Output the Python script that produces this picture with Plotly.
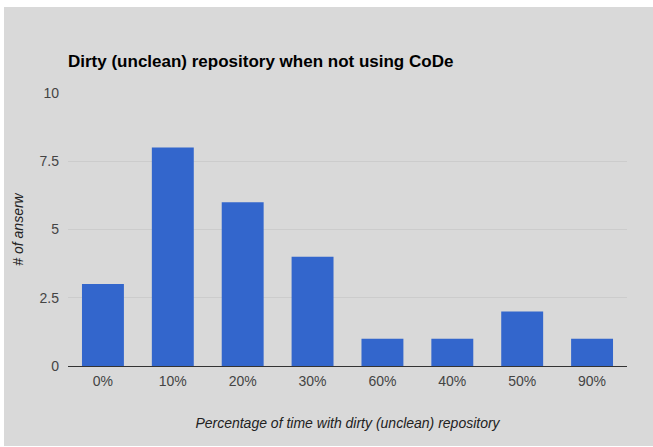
import plotly.graph_objects as go

categories = ["0%", "10%", "20%", "30%", "60%", "40%", "50%", "90%"]
answers = [3, 8, 6, 4, 1, 1, 2, 1]
y_ticks = [0, 2.5, 5, 7.5, 10]
y_tick_labels = ["0", "2.5", "5", "7.5", "10"]

W, H = 653, 447
L, R, T, B = 68, 26, 93, 81
pw, ph = W - L - R, H - T - B

def px_x(x):
    return (x - L) / pw

def px_y(y):
    return (H - B - y) / ph

fig = go.Figure(
    go.Bar(
        x=categories,
        y=answers,
        marker=dict(color="#3366cc", line=dict(width=0)),
        hoverinfo="x+y",
    )
)

# grey card behind the chart
fig.add_shape(
    type="rect", xref="paper", yref="paper", layer="below",
    x0=px_x(4), x1=px_x(660), y0=px_y(446), y1=px_y(7),
    fillcolor="#d9d9d9", line=dict(width=0),
)

fig.update_layout(
    width=W, height=H,
    margin=dict(l=L, r=R, t=T, b=B),
    paper_bgcolor="white",
    plot_bgcolor="rgba(0,0,0,0)",
    bargap=0.4,
    showlegend=False,
    font=dict(family="Arial, Liberation Sans, sans-serif", color="#444444", size=14),
    title=dict(
        text="<b>Dirty (unclean) repository when not using CoDe</b>",
        x=px_x(68), xanchor="left", xref="paper",
        y=1 - 61 / H, yanchor="middle",
        font=dict(size=17, color="#000000"),
    ),
    xaxis=dict(
        showgrid=False, zeroline=False,
        showline=False, ticks="",
        ticklabelstandoff=5,
        tickfont=dict(size=14, color="#444444"),
        title=dict(
            text="<i>Percentage of time with dirty (unclean) repository</i>",
            font=dict(size=14, color="#222222"),
            standoff=30,
        ),
    ),
    yaxis=dict(
        range=[0, 10],
        tickvals=y_ticks, ticktext=y_tick_labels,
        showgrid=True, gridcolor="#cccccc", gridwidth=1,
        zeroline=True, zerolinecolor="#333333", zerolinewidth=1,
        showline=False, ticks="",
        ticklabelstandoff=8,
        tickfont=dict(size=14, color="#444444"),
        title=dict(
            text="<i># of anserw</i>",
            font=dict(size=14, color="#222222"),
            standoff=12,
        ),
    ),
)

fig.write_html("out.html")
